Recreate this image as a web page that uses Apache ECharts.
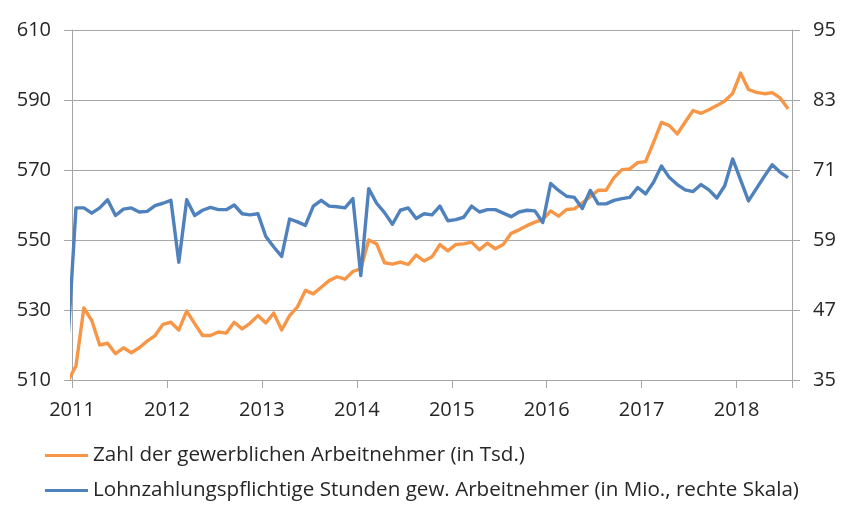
<!DOCTYPE html>
<html>
<head>
<meta charset="utf-8">
<script src="https://cdn.jsdelivr.net/npm/echarts@6/dist/echarts.min.js"></script>
<style>
html,body{margin:0;padding:0;background:#fff;}
#chart{width:850px;height:513px;}
</style>
</head>
<body>
<div id="chart"></div>
<script>
// Months (Dec 2010 – Jul 2018); the Dec 2010 point is clipped at the axis start
var months = [
  "2010-12",
  "2011-01","2011-02","2011-03","2011-04","2011-05","2011-06","2011-07","2011-08","2011-09","2011-10","2011-11","2011-12",
  "2012-01","2012-02","2012-03","2012-04","2012-05","2012-06","2012-07","2012-08","2012-09","2012-10","2012-11","2012-12",
  "2013-01","2013-02","2013-03","2013-04","2013-05","2013-06","2013-07","2013-08","2013-09","2013-10","2013-11","2013-12",
  "2014-01","2014-02","2014-03","2014-04","2014-05","2014-06","2014-07","2014-08","2014-09","2014-10","2014-11","2014-12",
  "2015-01","2015-02","2015-03","2015-04","2015-05","2015-06","2015-07","2015-08","2015-09","2015-10","2015-11","2015-12",
  "2016-01","2016-02","2016-03","2016-04","2016-05","2016-06","2016-07","2016-08","2016-09","2016-10","2016-11","2016-12",
  "2017-01","2017-02","2017-03","2017-04","2017-05","2017-06","2017-07","2017-08","2017-09","2017-10","2017-11","2017-12",
  "2018-01","2018-02","2018-03","2018-04","2018-05","2018-06","2018-07"
];

// Zahl der gewerblichen Arbeitnehmer (in Tsd.) – left axis
var arbeitnehmer = [
  509.8,
  514.0,530.6,527.0,520.0,520.5,517.5,519.2,517.8,519.2,521.1,522.7,525.9,
  526.5,524.3,529.7,526.1,522.7,522.7,523.7,523.4,526.5,524.6,526.2,528.4,
  526.3,529.1,524.3,528.4,530.9,535.6,534.6,536.5,538.4,539.5,538.8,541.0,
  541.8,550.0,548.9,543.5,543.1,543.7,543.0,545.7,544.0,545.2,548.7,546.9,
  548.7,548.9,549.4,547.2,549.1,547.5,548.7,551.9,552.9,554.1,555.1,555.8,
  558.3,556.8,558.7,558.9,560.6,562.4,564.2,564.2,567.8,570.1,570.3,572.1,
  572.4,577.9,583.6,582.7,580.3,583.7,587.0,586.2,587.2,588.4,589.7,591.9,
  597.7,593.0,592.2,591.8,592.1,590.6,587.5
];

// Lohnzahlungspflichtige Stunden (in Mio.) – right axis
var stunden = [
  42.0,
  64.5,64.5,63.6,64.5,65.9,63.2,64.3,64.5,63.8,63.9,64.9,65.3,
  65.8,55.2,65.9,63.2,64.1,64.6,64.2,64.2,65.0,63.5,63.3,63.5,
  59.6,57.8,56.2,62.6,62.1,61.5,64.8,65.8,64.8,64.7,64.5,66.1,
  52.9,67.8,65.3,63.7,61.7,64.1,64.5,62.7,63.5,63.3,64.8,62.3,
  62.5,62.9,64.8,63.8,64.2,64.2,63.6,63.0,63.8,64.1,64.0,62.0,
  68.7,67.5,66.5,66.3,64.4,67.5,65.2,65.2,65.8,66.1,66.3,68.0,
  66.9,68.9,71.7,69.7,68.5,67.6,67.3,68.5,67.6,66.2,68.3,72.9,
  69.3,65.7,67.8,69.9,71.9,70.6,69.7
];

var leftTicks = [510, 530, 550, 570, 590, 610];
var rightTicks = [35, 47, 59, 71, 83, 95];
var yearLabels = ["2011","2012","2013","2014","2015","2016","2017","2018"];

var seriesNames = [
  "Zahl der gewerblichen Arbeitnehmer (in Tsd.)",
  "Lohnzahlungspflichtige Stunden gew. Arbeitnehmer (in Mio., rechte Skala)"
];

// month offset (mid-month) from Jan 2011
function monthPos(s) {
  var p = s.split("-");
  return (parseInt(p[0], 10) - 2011) * 12 + (parseInt(p[1], 10) - 1) + 0.5;
}
function pairs(vals) {
  return months.map(function (m, i) { return [monthPos(m), vals[i]]; });
}

var FONT = "Open Sans";
var TXT = "#262626";
var GRID = "#A6A6A6";

var chart = echarts.init(document.getElementById("chart"), null, {renderer: "canvas"});
chart.setOption({
  animation: false,
  backgroundColor: "#ffffff",
  grid: {left: 72, right: 58, top: 30, bottom: 133, containLabel: false},
  legend: {
    orient: "vertical",
    left: 45,
    top: 445,
    padding: 0,
    itemWidth: 43,
    itemHeight: 3,
    itemGap: 14,
    icon: "rect",
    data: seriesNames,
    textStyle: {fontFamily: FONT, fontSize: 20.6, color: TXT}
  },
  xAxis: {
    type: "value",
    min: 0,
    max: 91,
    interval: 12,
    axisLine: {show: true, lineStyle: {color: GRID, width: 1}},
    axisTick: {show: true, length: 8, lineStyle: {color: GRID}},
    splitLine: {show: false},
    axisLabel: {
      margin: 20,
      fontFamily: FONT, fontSize: 20, color: TXT,
      formatter: function (v) {
        if (v % 12 !== 0) return "";
        return yearLabels[v / 12] || "";
      }
    }
  },
  yAxis: [
    {
      type: "value",
      min: leftTicks[0],
      max: leftTicks[leftTicks.length - 1],
      interval: leftTicks[1] - leftTicks[0],
      axisLine: {show: true, lineStyle: {color: GRID}},
      axisTick: {show: true, length: 8, lineStyle: {color: GRID}},
      splitLine: {show: true, lineStyle: {color: GRID, width: 1}},
      axisLabel: {margin: 21, fontFamily: FONT, fontSize: 20, color: TXT}
    },
    {
      type: "value",
      position: "right",
      min: rightTicks[0],
      max: rightTicks[rightTicks.length - 1],
      interval: rightTicks[1] - rightTicks[0],
      axisLine: {show: true, lineStyle: {color: GRID}},
      axisTick: {show: true, length: 8, lineStyle: {color: GRID}},
      splitLine: {show: false},
      axisLabel: {margin: 21, fontFamily: FONT, fontSize: 20, color: TXT}
    }
  ],
  series: [
    {
      name: seriesNames[0],
      type: "line",
      yAxisIndex: 0,
      data: pairs(arbeitnehmer),
      showSymbol: false,
      clip: true,
      color: "#F79646",
      lineStyle: {width: 3.4, color: "#F79646", join: "round"}
    },
    {
      name: seriesNames[1],
      type: "line",
      yAxisIndex: 1,
      data: pairs(stunden),
      showSymbol: false,
      clip: true,
      color: "#4F81BD",
      lineStyle: {width: 3.4, color: "#4F81BD", join: "round"}
    }
  ]
});
</script>
</body>
</html>
